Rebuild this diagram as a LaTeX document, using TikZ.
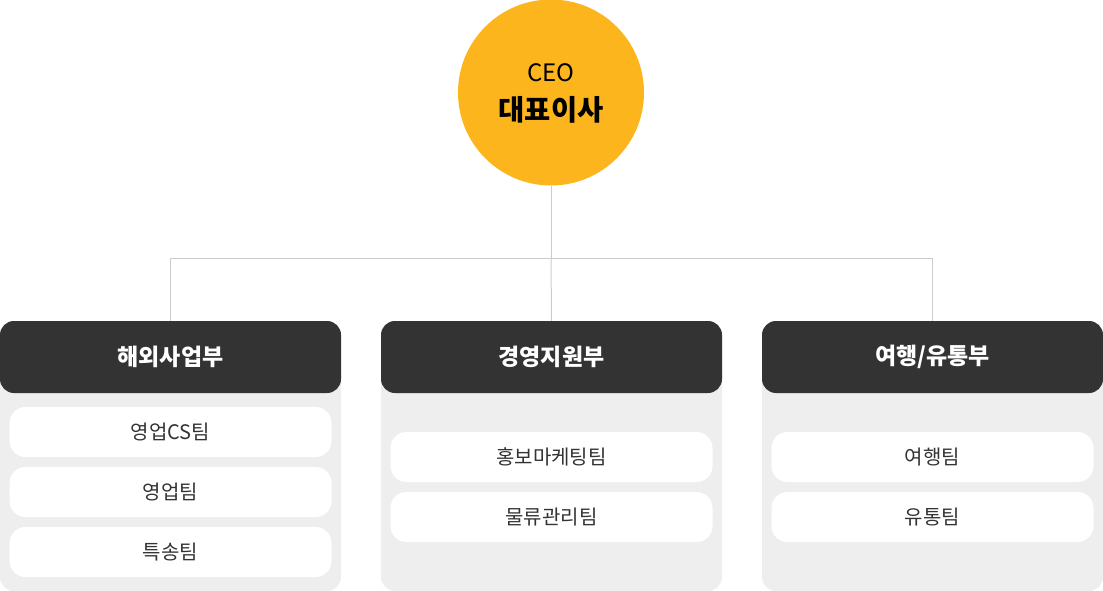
\documentclass[tikz,border=0pt]{standalone}
\usepackage{fontspec}
\setmainfont{Noto Sans CJK KR}
\usepackage{xcolor}
\usepackage{tikz}
\usetikzlibrary{positioning, calc}

\definecolor{ceoyellow}{HTML}{FDB51E}
\definecolor{headdark}{HTML}{333333}
\definecolor{panelgray}{HTML}{EEEEEE}
\definecolor{linegray}{HTML}{CCCCCC}

\begin{document}
\begin{tikzpicture}[
    x=1pt, y=-1pt,
    ceo/.style={circle, fill=ceoyellow, minimum size=186pt, inner sep=0pt},
    panel/.style={fill=panelgray, rounded corners=14pt, minimum width=341pt, minimum height=270pt, inner sep=0pt},
    head/.style={fill=headdark, rounded corners=14pt, minimum width=341pt, minimum height=72pt, inner sep=0pt, text=white, font=\fontsize{23}{26}\selectfont\bfseries},
    team/.style={fill=white, rounded corners=16pt, minimum width=322pt, minimum height=50pt, inner sep=0pt, text=headdark, font=\fontsize{20}{24}\selectfont},
    conn/.style={draw=linegray, line width=1pt}
]
    \useasboundingbox (0,0) rectangle (1103,591);

    % top
    \node[ceo] (ceo) at (551,92.5) {};
    \node[font=\fontsize{24}{28}\selectfont, text=black] (ceoen) at (551,73) {CEO};
    \node[font=\fontsize{28.5}{32}\selectfont\bfseries, text=black] (ceokr) at (551,110) {대표이사};

    % departments
    \node[panel] (pnl1) at (170.5,456) {};
    \node[panel] (pnl2) at (551.5,456) {};
    \node[panel] (pnl3) at (932.5,456) {};
    \node[head] (hd1) at (170.5,357) {해외사업부};
    \node[head] (hd2) at (551.5,357) {경영지원부};
    \node[head] (hd3) at (932.5,357) {여행/유통부};

    % teams
    \node[team] (t11) at (170.5,432) {영업CS팀};
    \node[team] (t12) at (170.5,492) {영업팀};
    \node[team] (t13) at (170.5,552) {특송팀};
    \node[team] (t21) at (551.5,457) {홍보마케팅팀};
    \node[team] (t22) at (551.5,517) {물류관리팀};
    \node[team] (t31) at (932.5,457) {여행팀};
    \node[team] (t32) at (932.5,517) {유통팀};

    % lines
    \coordinate (bus) at (551,258);
    \draw[conn] (ceo.south) -- (bus);
    \draw[conn] (bus) -| (hd1.north);
    \draw[conn] (bus) -- (hd2.north);
    \draw[conn] (bus) -| (hd3.north);
\end{tikzpicture}
\end{document}
